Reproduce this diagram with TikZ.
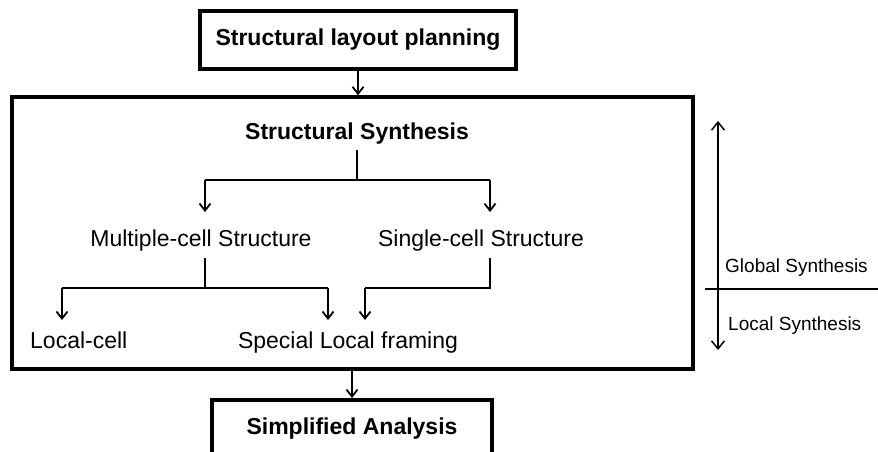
\documentclass[tikz,border=0pt]{standalone}
\usepackage{fontspec}
\setmainfont{Liberation Sans}
\usetikzlibrary{arrows.meta}
\tikzset{
  x=1pt, y=-1pt,
  boxnode/.style={draw, line width=3.5pt, inner sep=0pt, font=\fontsize{23}{26}\selectfont\bfseries},
  plain/.style={inner sep=0pt, font=\fontsize{23}{26}\selectfont},
  side/.style={inner sep=0pt, font=\fontsize{19}{22}\selectfont, anchor=base west},
  conn/.style={line width=1.8pt, -{Straight Barb[length=7pt,width=11pt,line width=1.8pt]}},
  link/.style={line width=1.8pt},
}
\begin{document}
\begin{tikzpicture}
\clip (0,0) rectangle (878,452);
\useasboundingbox (0,0) rectangle (878,452);
% boxes
\node[boxnode, minimum width=316pt, minimum height=58pt] (plan) at (358,40) {Structural layout planning};
\node[draw, line width=3.5pt, minimum width=681pt, minimum height=272pt, inner sep=0pt] (frame) at (352.5,233) {};
\node[boxnode, anchor=north, minimum width=280pt, text height=35pt, text depth=32pt] (simp) at (352,398) {Simplified Analysis};
% texts
\node[boxnode, draw=none] (ss) at (357,134) {Structural Synthesis};
\node[plain, anchor=base] (multi) at (201,246) {Multiple-cell Structure};
\node[plain, anchor=base] (single) at (481,246) {Single-cell Structure};
\node[plain, anchor=base west] (local) at (30,348) {Local-cell};
\node[plain, anchor=base] (special) at (348,348) {Special Local framing};
% junction coordinates
\coordinate (j1) at (357,180);
\coordinate (j1l) at (205,180);
\coordinate (j1r) at (490,180);
\coordinate (j2) at (205,288);
\coordinate (j2l) at (62,288);
\coordinate (j2r) at (328,288);
\coordinate (j3) at (490,288);
\coordinate (j3l) at (365,288);
% main arrows
\draw[conn] (plan.south) -- (plan.south |- frame.north);
\draw[conn] (frame.south -| simp.north) -- (simp.north);
% synthesis tree
\draw[link] (357,150) -- (j1);
\draw[conn] (j1l) -- (205,212);
\draw[link] (j1l) -- (j1r);
\draw[conn] (j1r) -- (490,212);
\draw[link] (205,258) -- (j2);
\draw[link] (j2l) -- (j2r);
\draw[conn] (j2l) -- (62,320);
\draw[conn] (j2r) -- (328,320);
\draw[link] (490,258) -- (j3) -- (j3l);
\draw[conn] (j3l) -- (365,320);
% right side
\coordinate (gtop) at (718,121);
\coordinate (gbot) at (718,350);
\coordinate (hl) at (705,289);
\coordinate (hr) at (878,289);
\draw[line width=1.5pt, {Straight Barb[length=8pt,width=13pt,line width=1.5pt]}-{Straight Barb[length=8pt,width=13pt,line width=1.5pt]}] (gtop) -- (gbot);
\draw[line width=1.2pt] (hl) -- (hr);
\node[side] (glob) at (725,272) {Global Synthesis};
\node[side] (locs) at (728,330) {Local Synthesis};
\end{tikzpicture}
\end{document}
